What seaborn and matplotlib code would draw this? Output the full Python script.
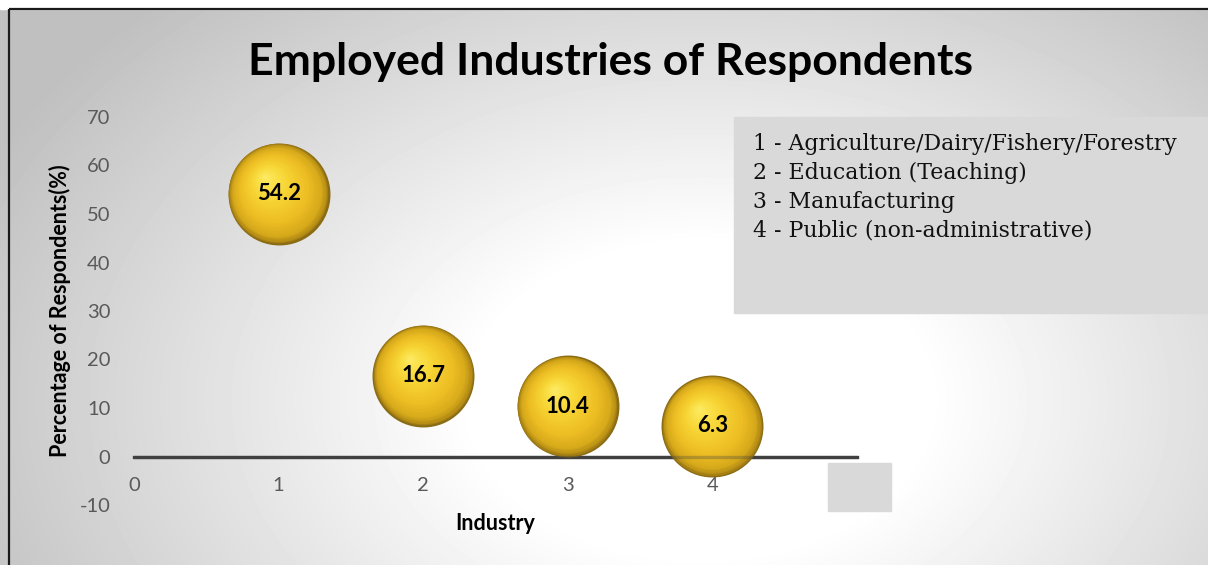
import numpy as np
import matplotlib
matplotlib.use("Agg")
import matplotlib.pyplot as plt
import seaborn as sns
from matplotlib.colors import LinearSegmentedColormap
from matplotlib.transforms import ScaledTranslation
from matplotlib.patches import Rectangle

# ---- data -------------------------------------------------------------
industry = [1, 2, 3, 4]
percent = [54.2, 16.7, 10.4, 6.3]
legend_lines = [
    "1 - Agriculture/Dairy/Fishery/Forestry",
    "2 - Education (Teaching)",
    "3 - Manufacturing",
    "4 - Public (non-administrative)",
]
x_ticks = [0, 1, 2, 3, 4]
y_ticks = [-10, 0, 10, 20, 30, 40, 50, 60, 70]

title = "Employed Industries of Respondents"
x_label = "Industry"
y_label = "Percentage of Respondents(%)"

# ---- style ------------------------------------------------------------
sns.set_theme(style="white")
plt.rcParams["font.family"] = ["Lato", "DejaVu Sans"]
plt.rcParams["axes.unicode_minus"] = False

W, H = 1208, 565
fig = plt.figure(figsize=(W / 100, H / 100), dpi=100)
fig.patch.set_facecolor("white")

# ---- background panel (pixel coordinates) -----------------------------
bg = fig.add_axes([0, 0, 1, 1], zorder=-10)
bg.axis("off")
yy, xx = np.mgrid[0:H, 0:W].astype(float)
cx, cy, rx, ry = 700.0, 400.0, 760.0, 520.0
t = np.sqrt(((xx - cx) / rx) ** 2 + ((yy - cy) / ry) ** 2)
shade = 1.0 - 0.25 * np.clip((t - 0.3) / 0.75, 0, 1)
bg.imshow(shade, cmap="gray", vmin=0, vmax=1, extent=[0, W, H, 0],
          interpolation="bilinear", aspect="auto")
bg.add_patch(Rectangle((0, 0), W, 9, color="white", zorder=2))
bg.add_patch(Rectangle((9, 9), W + 20, H + 20, fill=False,
                       edgecolor="#1a1a1a", linewidth=1.6, zorder=3))
bg.set_xlim(0, W)
bg.set_ylim(H, 0)

# key box
bg.add_patch(Rectangle((734, 117), 480, 196, color="#d9d9d9", zorder=3))
for i, line in enumerate(legend_lines):
    bg.text(753, 144 + i * 29, line, ha="left", va="center",
            fontsize=15.8, family=["DejaVu Serif"], color="#111111", zorder=4)
# empty marker box beside the axis end
bg.add_patch(Rectangle((828, 463), 63, 48, color="#d9d9d9", zorder=3))

bg.text(611, 62, title, ha="center", va="center", fontsize=32,
        fontweight="bold", color="black", zorder=4)
bg.text(60, 311, y_label, ha="center", va="center", rotation=90,
        fontsize=15.5, fontweight="bold", color="black", zorder=4)
bg.text(495, 524, x_label, ha="center", va="center",
        fontsize=15.5, fontweight="bold", color="black", zorder=4)

# ---- plot area ----------------------------------------------------------
ax = fig.add_axes([134 / W, (H - 505) / H, 723 / W, 388 / H])
ax.patch.set_alpha(0)
ax.set_xlim(0, 5)
ax.set_ylim(-10, 70)
for side in ("top", "right", "left"):
    ax.spines[side].set_visible(False)
ax.spines["bottom"].set_position(("data", 0))
ax.spines["bottom"].set_color("#404040")
ax.spines["bottom"].set_linewidth(2.4)
ax.spines["bottom"].set_zorder(1)
ax.set_xticks(x_ticks)
ax.set_yticks(y_ticks)
ax.tick_params(axis="both", length=0, labelsize=14.5, labelcolor="#595959")
ax.tick_params(axis="y", pad=17)
ax.tick_params(axis="x", pad=15)
ax.grid(False)

# ---- shaded gold spheres: stacked discs drifting toward the highlight ----
gold = LinearSegmentedColormap.from_list(
    "gold",
    [(0.0, "#8a6c14"), (0.04, "#b68d14"), (0.12, "#d6a91b"),
     (0.32, "#edbd24"), (0.62, "#f6d332"), (0.86, "#fbe34e"), (1.0, "#fdec6c")],
)
R_pt = 36.7           # sphere radius in points
hx, hy = -0.28, 0.34  # highlight direction (fraction of radius)
scales = np.linspace(1.0, 0.05, 40)
for k, s in enumerate(scales):
    sns.scatterplot(x=industry, y=percent, s=(2 * R_pt * s) ** 2,
                    color=gold(1 - s), linewidth=0, legend=False,
                    ax=ax, zorder=5 + k * 0.01)
    off = ScaledTranslation(hx * (1 - s) * R_pt / 72, hy * (1 - s) * R_pt / 72,
                            fig.dpi_scale_trans)
    ax.collections[-1].set_offset_transform(ax.transData + off)

# axis line faintly visible through the spheres
ax.axhline(0, color="#404040", linewidth=2.4, alpha=0.3, zorder=6)

for xv, yv in zip(industry, percent):
    ax.text(xv, yv, f"{yv}", ha="center", va="center", fontsize=16,
            fontweight="bold", color="black", zorder=7)

fig.savefig("out.png", dpi=100)
